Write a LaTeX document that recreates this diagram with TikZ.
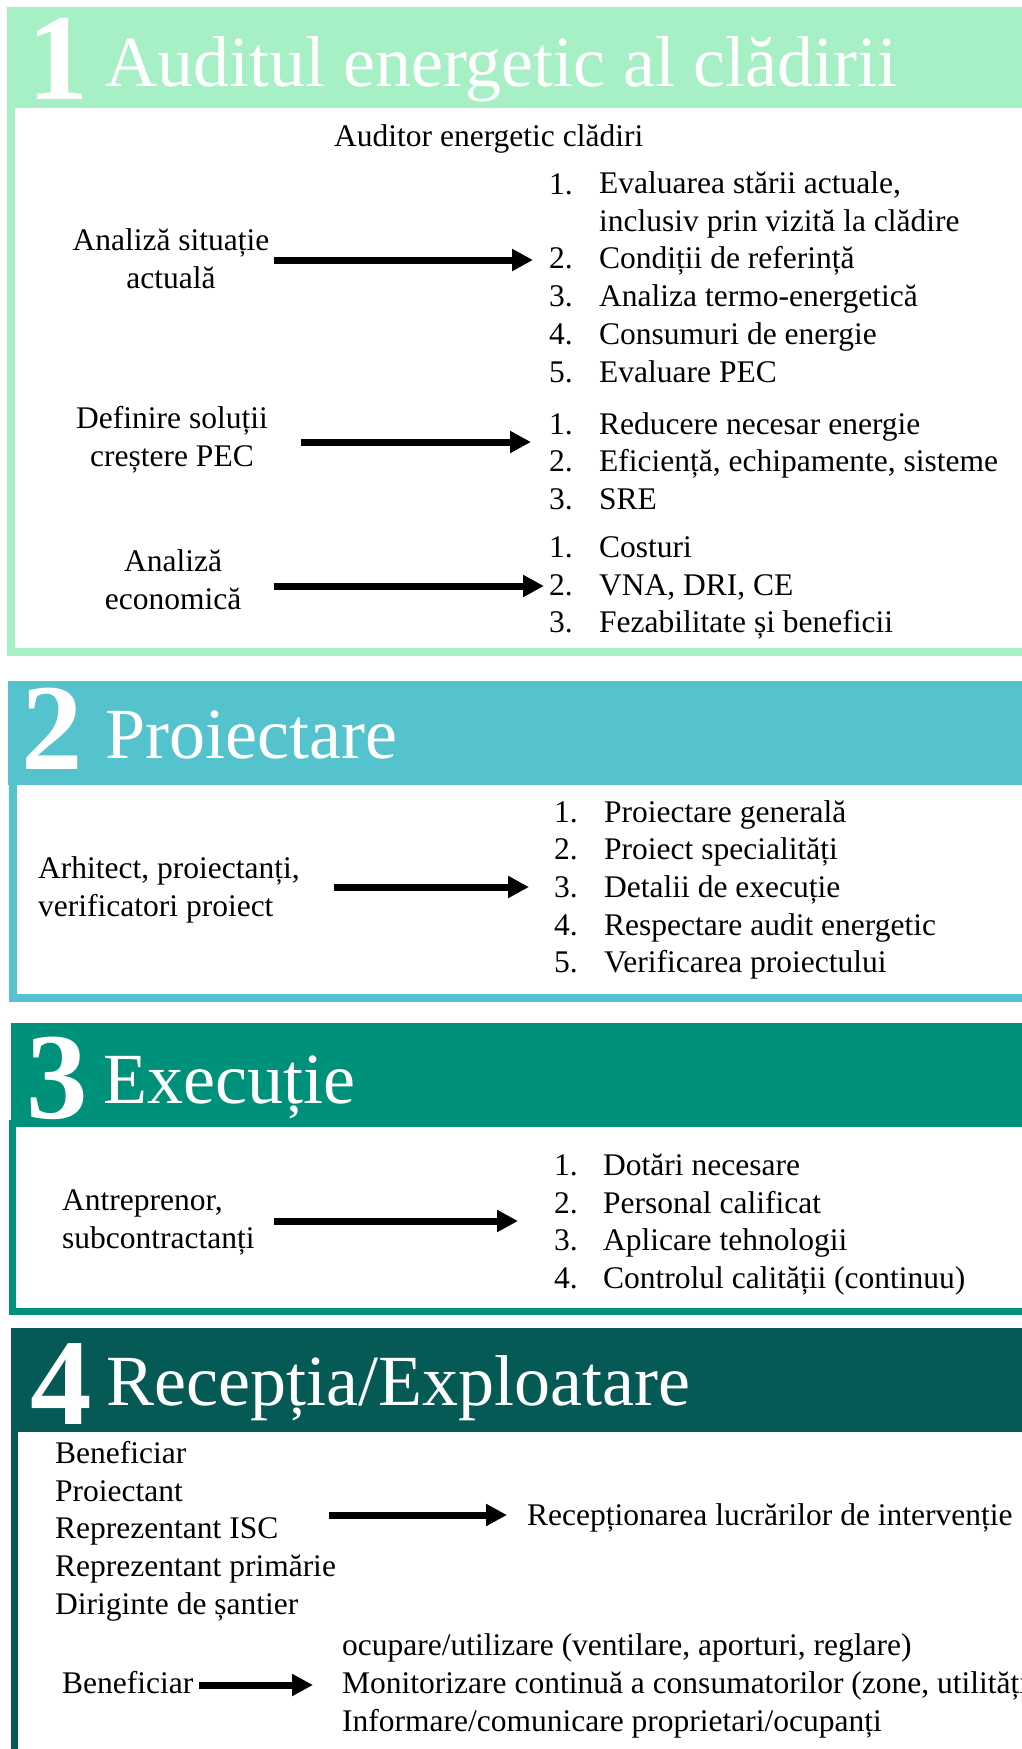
\documentclass[tikz,border=0pt]{standalone}
\usepackage{fontspec}
\setmainfont{Liberation Serif}
\usetikzlibrary{arrows.meta}
\definecolor{menta}{HTML}{A7F0C6}
\definecolor{turcoaz}{HTML}{55C3CD}
\definecolor{verde}{HTML}{00917B}
\definecolor{verdeinchis}{HTML}{055A55}
\tikzset{
  cifra/.style={anchor=base west, inner sep=0pt, text depth=0pt, text=white, font=\fontsize{123}{123}\selectfont\bfseries},
  titlu/.style={anchor=base west, inner sep=0pt, text=white, font=\fontsize{72}{72}\selectfont},
  txt/.style={inner sep=0pt, font=\fontsize{31.5}{37.6}\selectfont},
  nr/.style={txt, anchor=base west},
  punct/.style={txt, anchor=base west, align=left},
  sageata/.style={line width=7pt, -{Triangle[length=21pt,width=21pt]}},
}
\begin{document}
\begin{tikzpicture}[x=1pt,y=-1pt]
        \useasboundingbox (0,0) rectangle (1022,1749);
        \clip (0,0) rectangle (1022,1749);
        \fill[white] (0,0) rectangle (1022,1749);
        % 1 - audit (multi-line nodes sit on their last baseline)
        \fill[menta] (7,7) rectangle (1030,108);
        \draw[menta, line width=8pt] (11,100) |- (1030,652);
        \node[cifra] (c1) at (27,99) {1};
        \node[titlu] (t1) at (105,86) {Auditul energetic al clădirii};
        \node[txt, anchor=base west] (auditor) at (334,146) {Auditor energetic clădiri};
        \node[txt, anchor=base, align=center] (situatie) at (171,288) {Analiză situație\\actuală};
        \node[txt, anchor=base, align=center] (solutii) at (172,466) {Definire soluții\\creștere PEC};
        \node[txt, anchor=base, align=center] (economic) at (173,609) {Analiză\\economică};
        \node[nr] (an1) at (549,194) {1.};
        \node[punct] (a1) at (599,231) {Evaluarea stării actuale,\\inclusiv prin vizită la clădire};
        \foreach \n/\y/\t in {2/268/Condiții de referință, 3/306/Analiza termo-energetică,
                4/344/Consumuri de energie, 5/382/Evaluare PEC}
          {\node[nr] (an\n) at (549,\y) {\n.};
           \node[punct] (a\n) at (599,\y) {\t};}
        \foreach \n/\y/\t in {1/434/Reducere necesar energie, 2/471/{Eficiență, echipamente, sisteme}, 3/509/SRE}
          {\node[nr] (bn\n) at (549,\y) {\n.};
           \node[punct] (b\n) at (599,\y) {\t};}
        \foreach \n/\y/\t in {1/557/Costuri, 2/595/{VNA, DRI, CE}, 3/632/Fezabilitate și beneficii}
          {\node[nr] (cn\n) at (549,\y) {\n.};
           \node[punct] (cc\n) at (599,\y) {\t};}
        \coordinate (s1a) at (274,260);
        \coordinate (s1b) at (533,260);
        \coordinate (s2a) at (301,442);
        \coordinate (s2b) at (531,442);
        \coordinate (s3a) at (274,586);
        \coordinate (s3b) at (544,586);
        \draw[sageata] (s1a) -- (s1b);
        \draw[sageata] (s2a) -- (s2b);
        \draw[sageata] (s3a) -- (s3b);
        % 2 - proiectare
        \fill[turcoaz] (8,681) rectangle (1030,785);
        \draw[turcoaz, line width=8pt] (13,780) |- (1030,997.5);
        \node[cifra] (c2) at (21,769) {2};
        \node[titlu] (t2) at (105,758) {Proiectare};
        \node[punct] (proiectanti) at (38,916) {Arhitect, proiectanți,\\verificatori proiect};
        \foreach \n/\y/\t in {1/822/Proiectare generală, 2/859/Proiect specialități, 3/897/Detalii de execuție,
                4/935/Respectare audit energetic, 5/972/Verificarea proiectului}
          {\node[nr] (pn\n) at (554,\y) {\n.};
           \node[punct] (p\n) at (604,\y) {\t};}
        \coordinate (s4a) at (334,887);
        \coordinate (s4b) at (529,887);
        \draw[sageata] (s4a) -- (s4b);
        % 3 - executie
        \fill[verde] (11,1023) rectangle (1030,1127);
        \draw[verde, line width=7pt] (12,1120) |- (1030,1311.5);
        \node[cifra] (c3) at (26,1118) {3};
        \node[titlu] (t3) at (103,1103) {Execuție};
        \node[punct] (antreprenor) at (62,1248) {Antreprenor,\\subcontractanți};
        \foreach \n/\y/\t in {1/1175/Dotări necesare, 2/1213/Personal calificat, 3/1250/Aplicare tehnologii,
                4/1288/Controlul calității (continuu)}
          {\node[nr] (en\n) at (554,\y) {\n.};
           \node[punct] (e\n) at (603,\y) {\t};}
        \coordinate (s5a) at (274,1221);
        \coordinate (s5b) at (518,1221);
        \draw[sageata] (s5a) -- (s5b);
        % 4 - receptie / exploatare
        \fill[verdeinchis] (11,1328) rectangle (1030,1432);
        \draw[verdeinchis, line width=7pt] (14.5,1425) -- (14.5,1760);
        \node[cifra] (c4) at (30,1424) {4};
        \node[titlu] (t4) at (106,1405) {Recepția/Exploatare};
        \node[punct] (comisie) at (55,1614) {Beneficiar\\Proiectant\\Reprezentant ISC\\Reprezentant primărie\\Diriginte de șantier};
        \node[punct] (receptie) at (527,1525) {Recepționarea lucrărilor de intervenție};
        \node[punct] (beneficiar) at (62,1693) {Beneficiar};
        \node[punct] (exploatare) at (342,1731) {ocupare/utilizare (ventilare, aporturi, reglare)\\Monitorizare continuă a consumatorilor (zone, utilități)\\Informare/comunicare proprietari/ocupanți};
        \coordinate (s6a) at (329,1515);
        \coordinate (s6b) at (507,1515);
        \coordinate (s7a) at (199,1685);
        \coordinate (s7b) at (313,1685);
        \draw[sageata] (s6a) -- (s6b);
        \draw[sageata] (s7a) -- (s7b);
\end{tikzpicture}
\end{document}
